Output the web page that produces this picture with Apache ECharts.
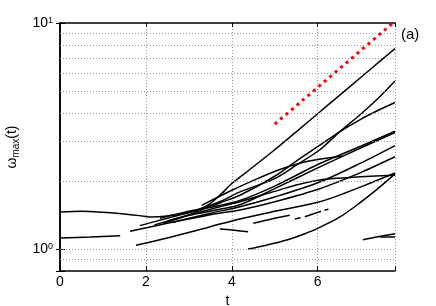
<!DOCTYPE html>
<html><head><meta charset="utf-8">
<script src="https://cdn.jsdelivr.net/npm/echarts@6/dist/echarts.min.js"></script>
<style>html,body{margin:0;padding:0;background:#fff}#c{width:436px;height:306px}</style>
</head><body><div id="c"></div>
<script>
// ---- data ----
const xTicks = [0, 2, 4, 6];
const yGridValues = [0.9, 1, 2, 3, 4, 5, 6, 7, 8, 9];
const refLine = [[5.0, 3.57], [7.75, 10.0]];

const c1 = [[0,1.46],[0.5,1.47],[1,1.455],[1.5,1.43],[2.0,1.395],[2.1,1.385],[2.5,1.40],[3.0,1.45],[3.25,1.50],[3.5,1.59],[3.75,1.75],[4.0,1.95],[4.42,2.25],[5.0,2.75],[5.5,3.3],[6.0,3.97],[6.5,4.77],[7.0,5.74],[7.5,6.9],[7.8,7.7]];
const c2 = [[1.86,1.27],[2.5,1.37],[3.0,1.45],[3.72,1.62],[4.19,1.79],[5.0,2.05],[5.5,2.35],[6.05,2.75],[6.51,3.3],[7.0,3.95],[7.36,4.55],[7.8,5.54]];
const c3 = [[2.2,1.28],[3.0,1.42],[3.72,1.6],[4.19,1.73],[5.0,2.1],[5.5,2.45],[6.05,2.88],[6.51,3.3],[7.0,3.75],[7.4,4.1],[7.8,4.45]];
const c4 = [[2.33,1.37],[3.0,1.47],[3.72,1.56],[4.19,1.64],[5.0,1.9],[6.05,2.39],[7.0,2.85],[7.8,3.32]];
const c5 = [[2.5,1.33],[3.0,1.41],[3.72,1.5],[4.19,1.57],[5.0,1.85],[6.05,2.31],[7.0,2.8],[7.8,3.28]];
const c6 = [[2.4,1.30],[3.0,1.41],[3.72,1.54],[4.19,1.62],[5.0,1.8],[5.5,1.92],[6.05,2.02],[6.5,2.06],[7.0,2.09],[7.8,2.12]];
const c7 = [[2.6,1.31],[3.5,1.44],[4.19,1.54],[5.0,1.7],[6.05,1.98],[7.0,2.4],[7.8,2.87]];
const c8 = [[1.63,1.20],[2.5,1.30],[3.5,1.42],[4.19,1.49],[5.0,1.62],[6.05,1.85],[7.0,2.18],[7.8,2.56]];
const c9 = [[1.77,1.04],[2.5,1.12],[3.26,1.22],[3.72,1.29],[4.19,1.36],[5.0,1.47],[6.05,1.62],[6.67,1.78],[7.2,1.95],[7.8,2.17]];
const c10 = [[4.38,1.0],[4.8,1.04],[5.3,1.1],[5.7,1.17],[6.0,1.235],[6.5,1.38],[6.98,1.6],[7.4,1.85],[7.8,2.15]];
const c11a = [[4.5,1.30],[4.9,1.355],[5.35,1.41]];
const c11b = [[5.47,1.36],[5.6,1.375]];
const c11c = [[5.7,1.39],[6.08,1.47]];
const c11d = [[6.16,1.485],[6.25,1.50]];
const c12 = [[3.72,1.226],[4.0,1.215],[4.38,1.193]];
const c13 = [[7.05,1.10],[7.4,1.135],[7.8,1.17]];
const c14 = [[7.45,1.13],[7.8,1.13]];
const c15 = [[3.3,1.56],[4.0,1.82],[4.6,2.05],[5.12,2.25],[5.8,2.45],[6.58,2.58]];
const cB = [[0,1.12],[0.7,1.13],[1.4,1.145]];

const curves = [c1,c2,c3,c4,c5,c6,c7,c8,c9,c10,c11a,c11b,c11c,c11d,c12,c13,c14,c15,cB];

// ---- chart ----
const FONT = "'Liberation Sans', Arial, Helvetica, sans-serif";
const isPow10 = v => { const l = Math.log10(v); return Math.abs(l - Math.round(l)) < 1e-6; };
const gridStyle = { color: '#999', type: [1, 2], width: 1 };

const series = [{
  type: 'line', data: [], silent: true, z: 1,
  markLine: {
    silent: true, symbol: ['none', 'none'], label: { show: false },
    lineStyle: gridStyle, animation: false,
    data: yGridValues.map(v => ({ yAxis: v }))
  }
}];
curves.forEach(d => series.push({
  type: 'line', data: d, showSymbol: false, smooth: 0.3, z: 3, silent: true,
  lineStyle: { color: '#000', width: 1.5 }
}));
series.push({
  type: 'line', data: refLine, showSymbol: false, z: 5, silent: true,
  lineStyle: { color: '#ff0000', width: 3, type: [3, 4.2], cap: 'butt' }
});

const chart = echarts.init(document.getElementById('c'), null, { renderer: 'canvas' });
chart.setOption({
  animation: false,
  backgroundColor: '#fff',
  textStyle: { fontFamily: FONT },
  grid: { left: 60, right: 41, top: 23, bottom: 35, containLabel: false, outerBoundsMode: 'none' },
  xAxis: [{
    type: 'value', min: 0, max: 7.8, interval: 2, position: 'bottom',
    axisLine: { show: true, onZero: false, lineStyle: { color: '#000', width: 1.5 } },
    axisTick: { show: true, inside: true, length: 5, lineStyle: { color: '#000' } },
    axisLabel: { fontSize: 14, color: '#000', margin: 4, fontFamily: FONT,
      formatter: v => xTicks.includes(v) ? String(v) : '' },
    splitLine: { show: true, lineStyle: gridStyle },
    name: 't', nameLocation: 'middle', nameGap: 17,
    nameTextStyle: { fontSize: 14, color: '#000', fontFamily: FONT }
  }, {
    type: 'value', min: 0, max: 7.8, interval: 2, position: 'top',
    axisLine: { show: true, onZero: false, lineStyle: { color: '#000', width: 1.5 } },
    axisTick: { show: true, inside: true, length: 4, lineStyle: { color: '#000' } },
    axisLabel: { show: false }, splitLine: { show: false }
  }],
  yAxis: [{
    type: 'log', logBase: 10, min: 0.8, max: 10, position: 'left',
    axisLine: { show: true, lineStyle: { color: '#000', width: 1.5 } },
    axisTick: { show: true, inside: true, length: 5, lineStyle: { color: '#000' } },
    axisLabel: {
      color: '#000', margin: 7, fontFamily: FONT,
      formatter: v => isPow10(v) ? '{b|10}{s|' + Math.round(Math.log10(v)) + '}' : '',
      rich: {
        b: { fontSize: 14, lineHeight: 14, verticalAlign: 'bottom', fontFamily: FONT, color: '#000' },
        s: { fontSize: 9, lineHeight: 9, verticalAlign: 'top', padding: [0, 0, 11, 0], fontFamily: FONT, color: '#000' }
      }
    },
    splitLine: { show: false },
    name: '{a|ω}{s|max}{a|(t)}', nameLocation: 'middle', nameRotate: 90, nameGap: 38,
    nameTextStyle: {
      color: '#000', fontFamily: FONT,
      rich: {
        a: { fontSize: 14, lineHeight: 16, verticalAlign: 'top', fontFamily: FONT, color: '#000' },
        s: { fontSize: 10, lineHeight: 10, verticalAlign: 'bottom', padding: [7, 0, 0, 0], fontFamily: FONT, color: '#000' }
      }
    }
  }, {
    type: 'log', logBase: 10, min: 0.8, max: 10, position: 'right',
    axisLine: { show: true, lineStyle: { color: '#000', width: 1.5 } },
    axisTick: { show: true, inside: true, length: 4, lineStyle: { color: '#000' } },
    axisLabel: { show: false }, splitLine: { show: false }
  }],
  graphic: [{
    type: 'text', left: 401, top: 27,
    style: { text: '(a)', fontSize: 15, fontFamily: FONT, fill: '#000' }
  }],
  series: series
});
</script>
</body></html>
